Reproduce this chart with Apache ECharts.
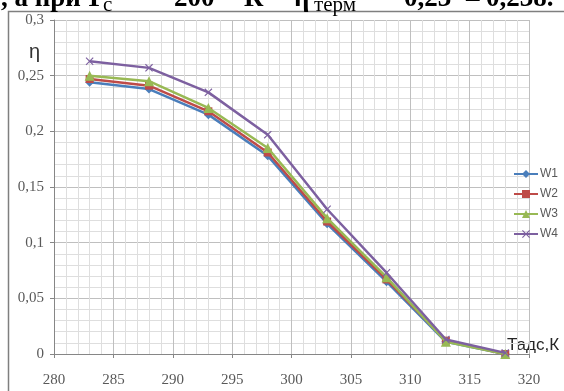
<!DOCTYPE html>
<html>
<head>
<meta charset="utf-8">
<script src="https://cdn.jsdelivr.net/npm/echarts@6/dist/echarts.min.js"></script>
<style>
html,body{margin:0;padding:0;background:#fff;}
#c{width:564px;height:391px;}
</style>
</head>
<body>
<div id="c"></div>
<script>
var temps = [283, 288, 293, 298, 303, 308, 313, 318];
var w1 = [0.244, 0.238, 0.215, 0.178, 0.117, 0.065, 0.011, 0];
var w2 = [0.247, 0.241, 0.218, 0.181, 0.119, 0.067, 0.012, 0];
var w3 = [0.250, 0.245, 0.221, 0.185, 0.122, 0.069, 0.011, 0];
var w4 = [0.263, 0.257, 0.235, 0.197, 0.130, 0.073, 0.013, 0.001];
var seriesNames = ['W1', 'W2', 'W3', 'W4'];
var yTickLabels = {'0':'0','0.05':'0,05','0.1':'0,1','0.15':'0,15','0.2':'0,2','0.25':'0,25','0.3':'0,3'};
var xAxisName = 'Тадс,К';
var yAxisName = 'η';
var captionPieces = [', а при', 'Т', 'с', '=', '200', 'К', 'η', 'терм', '=', '0,23', '–', '0,238.'];

function pairs(ys){ return temps.map(function(t,i){ return [t, ys[i]]; }); }

var colors = ['#4A7EBB', '#BE4B48', '#98B954', '#7D60A0'];
var crossPath = 'path://M0,1L1,0L5,4L9,0L10,1L6,5L10,9L9,10L5,6L1,10L0,9L4,5Z';
var symbols = ['diamond', 'rect', 'triangle', crossPath];
var sizes = [9, 8, 10, 8];
var all = [w1, w2, w3, w4];

// caption layout (justified text in the source page, cut at the top)
var capX = [1, 85, 103, 131, 174, 244, 294, 314, 378, 404, 466, 486];
var capSub = [false, false, true, false, false, false, false, true, false, false, false, false];
var captionGraphics = captionPieces.map(function(t, i){
  return {type: 'text', x: capX[i], y: capSub[i] ? 5 : -1, silent: true,
    style: {text: t, verticalAlign: 'middle', align: 'left',
      font: capSub[i] ? '21px "Liberation Serif"' : 'bold 27px "Liberation Serif"', fill: '#000'}};
});

var chart = echarts.init(document.getElementById('c'), null, {renderer:'canvas'});
chart.setOption({
  animation: false,
  backgroundColor: '#fff',
  color: colors,
  grid: {left: 54, right: 35, top: 20, bottom: 37, containLabel: false},
  legend: {
    orient: 'vertical', left: 508, top: 163, itemGap: 8, itemWidth: 24, itemHeight: 10,
    textStyle: {fontFamily: 'Liberation Sans', fontSize: 12, color: '#595959', padding:[0,0,0,-3]},
    data: seriesNames
  },
  xAxis: {
    type: 'value', min: 280, max: 320, interval: 5,
    axisLine: {show: true, onZero: false, lineStyle: {color: '#868686', width: 1}},
    axisTick: {show: true, length: 4, lineStyle: {color: '#868686'}},
    axisLabel: {fontFamily: 'Liberation Serif', fontSize: 15, color: '#595959', margin: 19},
    splitLine: {show: true, lineStyle: {color: '#bfbfbf', width: 1}},
    minorTick: {show: false, splitNumber: 5},
    minorSplitLine: {show: true, lineStyle: {color: '#dedede', width: 1}}
  },
  yAxis: {
    type: 'value', min: 0, max: 0.3, interval: 0.05,
    axisLine: {show: true, lineStyle: {color: '#868686', width: 1}},
    axisTick: {show: true, length: 4, lineStyle: {color: '#868686'}},
    axisLabel: {fontFamily: 'Liberation Serif', fontSize: 15, color: '#595959', margin: 10,
      formatter: function(v){ var k = String(Math.round(v*100)/100); return yTickLabels[k] !== undefined ? yTickLabels[k] : k; }},
    splitLine: {show: true, lineStyle: {color: '#bfbfbf', width: 1}},
    minorTick: {show: false, splitNumber: 5},
    minorSplitLine: {show: true, lineStyle: {color: '#dedede', width: 1}}
  },
  series: all.map(function(d, i){
    return {
      name: seriesNames[i], type: 'line', data: pairs(d),
      symbol: symbols[i], symbolSize: sizes[i], showSymbol: true,
      lineStyle: {width: 2.5, color: colors[i]},
      itemStyle: {color: colors[i]},
      z: 2 + i
    };
  }),
  graphic: [
    {type: 'rect', shape: {x: 8.5, y: 11.5, width: 600, height: 420}, style: {fill: 'none', stroke: '#7f7f7f', lineWidth: 1.5}, silent: true},
    {type: 'text', left: 29, top: 42, style: {text: yAxisName, font: '20px "Liberation Sans"', fill: '#333'}},
    {type: 'text', left: 507, top: 337, style: {text: xAxisName, font: '17px "Liberation Sans"', fill: '#262626'}}
  ].concat(captionGraphics)
});
</script>
</body>
</html>
